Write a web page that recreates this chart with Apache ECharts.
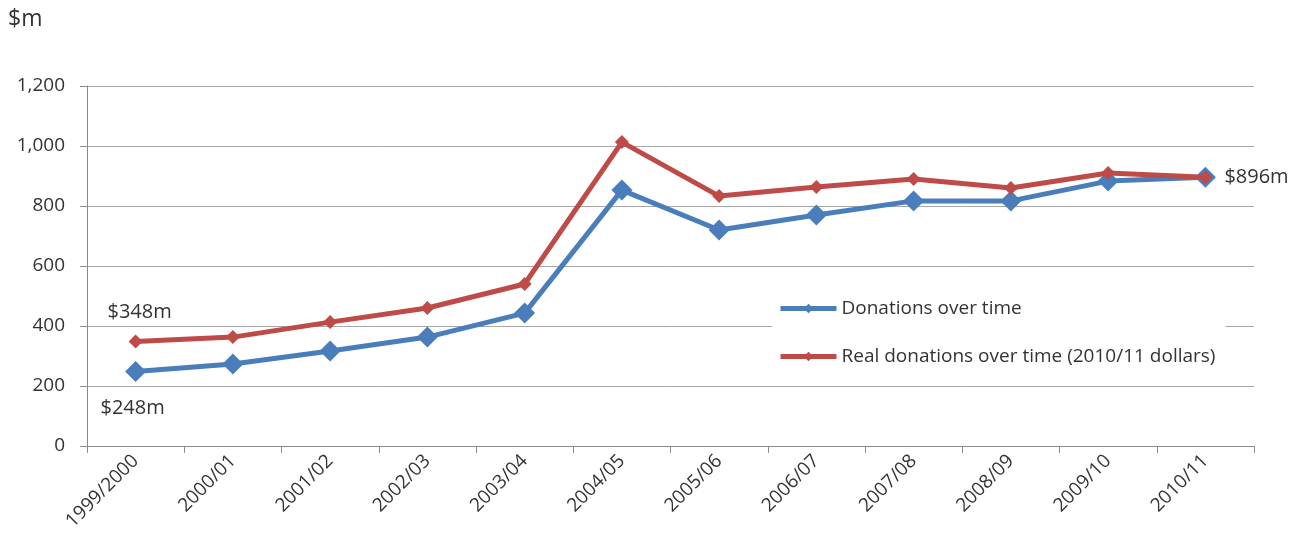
<!DOCTYPE html>
<html>
<head>
<meta charset="utf-8">
<script src="https://cdn.jsdelivr.net/npm/echarts@6/dist/echarts.min.js"></script>
<style>
  html, body { margin: 0; padding: 0; background: #fff; }
  #chart { width: 1304px; height: 544px; }
</style>
</head>
<body>
<div id="chart"></div>
<script>
// Financial years
const years = ['1999/2000', '2000/01', '2001/02', '2002/03', '2003/04', '2004/05',
  '2005/06', '2006/07', '2007/08', '2008/09', '2009/10', '2010/11'];

// Nominal donations, $m
const donations = [248, 273, 317, 363, 443, 853, 720, 770, 817, 817, 883, 896];

// Donations in 2010/11 dollars, $m
const realDonations = [348, 363, 413, 460, 540, 1013, 833, 863, 890, 860, 910, 896];

const yTicks = { min: 0, max: 1200, interval: 200 };

const FONT = '"Open Sans", Lato, sans-serif';
const TEXT = '#333333';

function withLabels(values, labelled) {
  return values.map((v, i) => {
    const cfg = labelled[i];
    if (!cfg) return v;
    return {
      value: v,
      label: Object.assign({
        show: true,
        formatter: p => '$' + p.value + 'm',
        fontFamily: FONT,
        fontSize: 20,
        color: TEXT
      }, cfg)
    };
  });
}

const chart = echarts.init(document.getElementById('chart'), null, { renderer: 'canvas' });

chart.setOption({
  animation: false,
  backgroundColor: '#fff',
  graphic: [{
    type: 'text',
    left: 8,
    top: 8,
    style: { text: '$m', font: '23px ' + FONT, fill: TEXT }
  }],
  grid: { left: 87, right: 50, top: 86, bottom: 98, containLabel: false },
  legend: {
    orient: 'vertical',
    left: 772,
    top: 293,
    itemWidth: 56,
    itemHeight: 12,
    itemGap: 29,
    padding: [6, 10, 8, 6],
    backgroundColor: '#fff',
    lineStyle: { width: 5 },
    textStyle: { fontFamily: FONT, fontSize: 19, color: TEXT },
    data: ['Donations over time', 'Real donations over time (2010/11 dollars)']
  },
  xAxis: {
    type: 'category',
    data: years,
    boundaryGap: true,
    axisLine: { lineStyle: { color: '#8c8c8c', width: 1 } },
    axisTick: { show: true, alignWithLabel: false, length: 7, lineStyle: { color: '#8c8c8c' } },
    axisLabel: {
      rotate: 45,
      interval: 0,
      margin: 12,
      fontFamily: FONT,
      fontSize: 19,
      color: TEXT
    },
    splitLine: { show: false }
  },
  yAxis: {
    type: 'value',
    min: yTicks.min,
    max: yTicks.max,
    interval: yTicks.interval,
    axisLine: { show: true, lineStyle: { color: '#8c8c8c', width: 1 } },
    axisTick: { show: true, length: 7, lineStyle: { color: '#8c8c8c' } },
    axisLabel: {
      margin: 22,
      fontFamily: FONT,
      fontSize: 19,
      color: TEXT,
      formatter: v => v.toLocaleString('en-US')
    },
    splitLine: { show: true, lineStyle: { color: '#a6a6a6', width: 1 } }
  },
  series: [
    {
      name: 'Donations over time',
      type: 'line',
      data: withLabels(donations, {
        0: { position: 'bottom', distance: 14, offset: [-3, 2] }
      }),
      symbol: 'diamond',
      symbolSize: 21,
      color: '#4a7ebb',
      lineStyle: { width: 5, color: '#4a7ebb' },
      itemStyle: { color: '#4a7ebb' },
      z: 2
    },
    {
      name: 'Real donations over time (2010/11 dollars)',
      type: 'line',
      data: withLabels(realDonations, {
        0: { position: 'top', distance: 12, offset: [4, 0] },
        11: { position: 'right', distance: 12 }
      }),
      symbol: 'diamond',
      symbolSize: 14,
      color: '#be4b48',
      lineStyle: { width: 5, color: '#be4b48' },
      itemStyle: { color: '#be4b48' },
      z: 3
    }
  ]
});
</script>
</body>
</html>
